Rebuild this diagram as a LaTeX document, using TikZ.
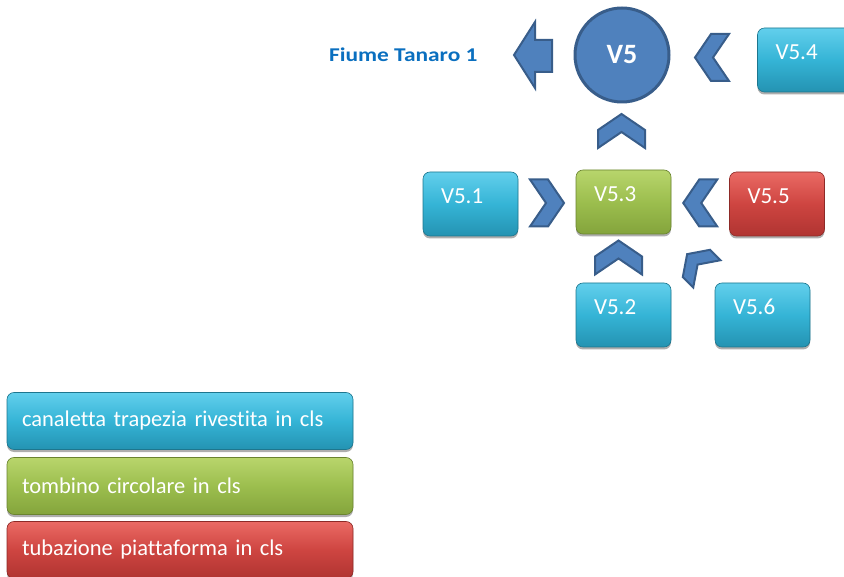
\documentclass[tikz,border=0pt]{standalone}
\usepackage{fontspec}
\setmainfont{Carlito}[Ligatures=NoCommon]
\usetikzlibrary{calc,shadows}
\definecolor{chevfill}{HTML}{4F81BD}
\definecolor{chevline}{HTML}{385D8A}
\definecolor{bluetop}{HTML}{62CFEC}
\definecolor{bluemid}{HTML}{35B4D6}
\definecolor{bluebot}{HTML}{2493B2}
\definecolor{greentop}{HTML}{B8D56C}
\definecolor{greenmid}{HTML}{9CBE4E}
\definecolor{greenbot}{HTML}{84A43C}
\definecolor{redtop}{HTML}{EA6A64}
\definecolor{redmid}{HTML}{CE4541}
\definecolor{redbot}{HTML}{B03431}
\definecolor{rivertext}{HTML}{0A6FBF}
\tikzset{
  x=1pt, y=-1pt,
  boxbase/.style={rounded corners=7pt, text=white, align=left,
    drop shadow={shadow xshift=0pt, shadow yshift=-2.5pt, opacity=0.45, fill=black!70}},
  vbox/.style={boxbase, minimum width=95pt, minimum height=64pt, inner xsep=18pt,
    text width=59pt, text height=17pt, text depth=17pt,
    font=\fontsize{23}{26}\selectfont},
  legbox/.style={boxbase, minimum width=346pt, minimum height=57pt, inner xsep=15pt,
    text width=316pt, font=\fontsize{22.5}{26}\selectfont},
  bluebox/.style={top color=bluetop, bottom color=bluebot, middle color=bluemid, draw=bluebot!80!black, line width=0.6pt},
  greenbox/.style={top color=greentop, bottom color=greenbot, middle color=greenmid, draw=greenbot!80!black, line width=0.6pt},
  redbox/.style={top color=redtop, bottom color=redbot, middle color=redmid, draw=redbot!80!black, line width=0.6pt},
  chevstyle/.style={fill=chevfill, draw=chevline, line width=2pt, line join=miter},
  chev/.pic={\path[chevstyle] (-17,-23.5) -- (1,-23.5) -- (17,0) -- (1,23.5) -- (-17,23.5) -- (-1,0) -- cycle;}
}
\begin{document}
\begin{tikzpicture}
\useasboundingbox (0,0) rectangle (844,577);
% target circle
\node[circle, fill=chevfill, draw=chevline, line width=3pt, minimum size=94pt,
      text=white, font=\bfseries\fontsize{28}{30}\selectfont] (v5) at (622,55) {V5};
% outflow arrow
\path[chevstyle] (514,55) -- (535,22) -- (535,40) -- (552,40) -- (552,72) -- (535,72) -- (535,88) -- cycle;
\node[text=rivertext, font=\bfseries\fontsize{19.5}{22}\selectfont, anchor=east] (fiume) at (481,55) {\scalebox{1.2}[1]{Fiume Tanaro 1}};
% boxes
\node[vbox, bluebox]  (v54) at (805,60)   {V5.4};
\node[vbox, bluebox]  (v51) at (470.5,204) {V5.1};
\node[vbox, greenbox] (v53) at (623.5,202) {V5.3};
\node[vbox, redbox]   (v55) at (777,204)  {V5.5};
\node[vbox, bluebox]  (v52) at (623.5,315) {V5.2};
\node[vbox, bluebox]  (v56) at (762.5,315) {V5.6};
% chevrons
\pic[rotate=180] at (712,57.5) {chev};
\pic[rotate=90]  at (621.5,131) {chev};
\pic at ($(v51.east)!0.5!(v53.west)$) {chev};
\pic[rotate=180] at ($(v53.east)!0.5!(v55.west)$) {chev};
\pic[rotate=90]  at (618.5,257.5) {chev};
\pic[rotate=135, scale=0.82] at (697,264) {chev};
% legend
\node[legbox, bluebox]  (lcan) at (180,421) {canaletta trapezia rivestita in cls};
\node[legbox, greenbox] (ltom) at (180,486) {tombino circolare in cls};
\node[legbox, redbox]   (ltub) at (180,550) {tubazione piattaforma in cls};
\end{tikzpicture}
\end{document}
